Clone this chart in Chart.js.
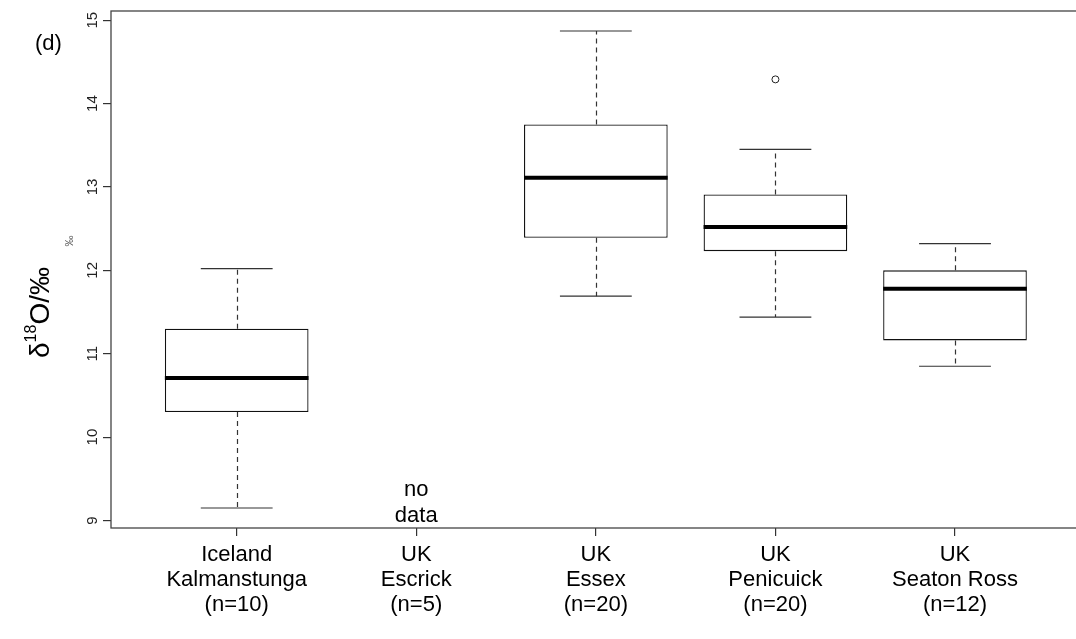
<!DOCTYPE html>
<html>
<head>
<meta charset="utf-8">
<script src="https://cdn.jsdelivr.net/npm/chart.js@4.4.0/dist/chart.umd.min.js"></script>
<style>
  html, body { margin: 0; padding: 0; background: #fff; overflow: hidden; }
</style>
</head>
<body>
<canvas id="boxChart" width="1076" height="639"></canvas>
<script>
// sites along the x axis (multi-line labels)
var sites = [
  ['Iceland', 'Kalmanstunga', '(n=10)'],
  ['UK', 'Escrick', '(n=5)'],
  ['UK', 'Essex', '(n=20)'],
  ['UK', 'Penicuick', '(n=20)'],
  ['UK', 'Seaton Ross', '(n=12)']
];
var positions = [1, 2, 3, 4, 5];

// box statistics, null where there is no data
var whiskerLow  = [9.15, null, 11.69, 11.44, 10.85];
var q1          = [10.30, null, 12.39, 12.23, 11.16];
var medians     = [10.71, null, 13.11, 12.52, 11.78];
var q3          = [11.30, null, 13.75, 12.91, 12.00];
var whiskerHigh = [12.02, null, 14.87, 13.45, 12.32];

var outlierSite  = [4];
var outlierValue = [14.29];

var yTicks = [9, 10, 11, 12, 13, 14, 15];

var FONT = "'Liberation Sans', Arial, Helvetica, sans-serif";

var boxData = positions.map(function (p, i) {
  return { x: p, y: q1[i] == null ? null : [q1[i], q3[i]] };
});
var outliers = outlierSite.map(function (p, i) {
  return { x: p, y: outlierValue[i] };
});

// whiskers, caps, medians, frame and the extra text
var boxExtras = {
  id: 'boxExtras',
  beforeDatasetsDraw: function (chart) {
    var ctx = chart.ctx, xs = chart.scales.x, ys = chart.scales.y;
    ctx.save();
    ctx.strokeStyle = '#333';
    ctx.lineWidth = 1.2;
    positions.forEach(function (p, i) {
      if (q1[i] == null) return;
      var cx = Math.round(xs.getPixelForValue(p)) + 0.5;
      var capL = xs.getPixelForValue(p - 0.2), capR = xs.getPixelForValue(p + 0.2);
      ctx.setLineDash([5, 4]);
      ctx.beginPath();
      ctx.moveTo(cx, ys.getPixelForValue(q3[i]));
      ctx.lineTo(cx, ys.getPixelForValue(whiskerHigh[i]));
      ctx.moveTo(cx, ys.getPixelForValue(q1[i]));
      ctx.lineTo(cx, ys.getPixelForValue(whiskerLow[i]));
      ctx.stroke();
      ctx.setLineDash([]);
      ctx.beginPath();
      ctx.moveTo(capL, ys.getPixelForValue(whiskerHigh[i]));
      ctx.lineTo(capR, ys.getPixelForValue(whiskerHigh[i]));
      ctx.moveTo(capL, ys.getPixelForValue(whiskerLow[i]));
      ctx.lineTo(capR, ys.getPixelForValue(whiskerLow[i]));
      ctx.stroke();
    });
    ctx.restore();
  },
  afterDatasetsDraw: function (chart) {
    var ctx = chart.ctx, xs = chart.scales.x, ys = chart.scales.y;
    ctx.save();
    ctx.strokeStyle = '#000';
    ctx.lineWidth = 4;
    positions.forEach(function (p, i) {
      if (medians[i] == null) return;
      var y = ys.getPixelForValue(medians[i]);
      ctx.beginPath();
      ctx.moveTo(xs.getPixelForValue(p - 0.4), y);
      ctx.lineTo(xs.getPixelForValue(p + 0.4), y);
      ctx.stroke();
    });
    ctx.restore();
  },
  afterDraw: function (chart) {
    var ctx = chart.ctx, xs = chart.scales.x, ys = chart.scales.y, a = chart.chartArea;
    ctx.save();
    // plot frame (right side runs off the canvas)
    ctx.strokeStyle = '#444';
    ctx.lineWidth = 1.3;
    ctx.strokeRect(a.left, a.top, a.right - a.left + 20, a.bottom - a.top);

    // rotated y tick labels
    ctx.fillStyle = '#222';
    ctx.font = '15px ' + FONT;
    ctx.textAlign = 'center';
    ctx.textBaseline = 'middle';
    yTicks.forEach(function (v) {
      ctx.save();
      ctx.translate(93, ys.getPixelForValue(v));
      ctx.rotate(-Math.PI / 2);
      ctx.fillText(String(v), 0, 0);
      ctx.restore();
    });

    // "no data" for Escrick
    ctx.fillStyle = '#000';
    ctx.font = '22px ' + FONT;
    var ex = xs.getPixelForValue(2);
    ctx.fillText('no', ex, ys.getPixelForValue(9.37));
    ctx.fillText('data', ex, ys.getPixelForValue(9.05));

    // panel letter
    ctx.textAlign = 'left';
    ctx.fillText('(d)', 35, 44);

    // y axis title: delta 18 O / permil
    ctx.save();
    ctx.translate(41, 358);
    ctx.rotate(-Math.PI / 2);
    ctx.textAlign = 'left';
    ctx.textBaseline = 'middle';
    ctx.font = '28px ' + FONT;
    ctx.fillText('\u03b4', 0, 0);
    var w = ctx.measureText('\u03b4').width;
    ctx.font = '16px ' + FONT;
    ctx.fillText('18', w, -9);
    w += ctx.measureText('18').width;
    ctx.font = '28px ' + FONT;
    ctx.fillText('O/\u2030', w, 0);
    ctx.restore();

    // small stray permil glyph
    ctx.save();
    ctx.translate(70, 241);
    ctx.rotate(-Math.PI / 2);
    ctx.font = '11px ' + FONT;
    ctx.fillStyle = '#555';
    ctx.textAlign = 'center';
    ctx.fillText('\u2030', 0, 0);
    ctx.restore();
    ctx.restore();
  }
};

new Chart(document.getElementById('boxChart').getContext('2d'), {
  type: 'bar',
  data: {
    datasets: [
      {
        label: 'IQR',
        data: boxData,
        backgroundColor: '#fff',
        borderColor: '#111',
        borderWidth: 1.3,
        borderSkipped: false,
        barPercentage: 0.8,
        categoryPercentage: 1
      },
      {
        type: 'scatter',
        label: 'outliers',
        data: outliers,
        pointStyle: 'circle',
        radius: 3.5,
        backgroundColor: '#fff',
        borderColor: '#222',
        borderWidth: 1
      }
    ]
  },
  options: {
    responsive: false,
    animation: false,
    layout: { padding: { top: 11, left: 0, right: 0, bottom: 0 } },
    plugins: {
      legend: { display: false },
      tooltip: { enabled: false }
    },
    scales: {
      x: {
        type: 'linear',
        offset: false,
        min: 0.3,
        max: 5.646,
        afterBuildTicks: function (scale) {
          scale.ticks = positions.map(function (p) { return { value: p }; });
        },
        afterFit: function (scale) { scale.height = 111; },
        border: { display: false },
        grid: { offset: false, drawOnChartArea: false, drawTicks: true, tickLength: 8, color: '#333', lineWidth: 1.2 },
        ticks: {
          autoSkip: false,
          maxRotation: 0,
          padding: 6,
          color: '#000',
          font: { family: FONT, size: 22, lineHeight: 1.14 },
          callback: function (value, index) { return sites[index]; }
        }
      },
      y: {
        min: 8.91,
        max: 15.11,
        afterBuildTicks: function (scale) {
          scale.ticks = yTicks.map(function (v) { return { value: v }; });
        },
        afterFit: function (scale) { scale.width = 111; },
        border: { display: false },
        grid: { drawOnChartArea: false, drawTicks: true, tickLength: 8, color: '#333', lineWidth: 1.2 },
        ticks: { display: false }
      }
    }
  },
  plugins: [boxExtras]
});
</script>
</body>
</html>
